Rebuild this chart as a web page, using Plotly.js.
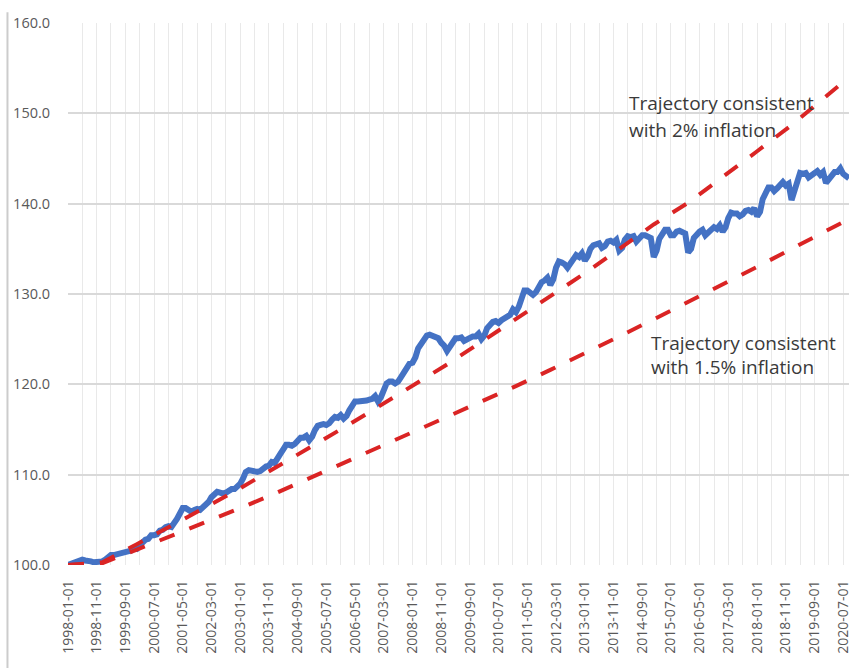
<!DOCTYPE html>
<html>
<head>
<meta charset="utf-8">
<script src="https://cdn.plot.ly/plotly-3.0.1.min.js"></script>
<style>
  html, body { margin: 0; padding: 0; background: #ffffff; }
  #chart { width: 853px; height: 669px; }
</style>
</head>
<body>
<div id="chart"></div>
<script>
// Monthly price index, January 1998 = 100 (one row per year)
const startYear = 1998;
const indexValues = [
  100.0, 100.1, 100.2, 100.4, 100.5, 100.6, 100.5, 100.5, 100.4, 100.3, 100.3, 100.4, // 1998
  100.4, 100.6, 100.8, 101.1, 101.1, 101.2, 101.2, 101.3, 101.4, 101.5, 101.6, 101.9, // 1999
  101.8, 102.2, 102.6, 102.8, 102.9, 103.3, 103.3, 103.4, 103.8, 103.9, 104.2, 104.3, // 2000
  104.2, 104.6, 105.1, 105.7, 106.3, 106.3, 106.0, 105.9, 106.1, 106.2, 106.1, 106.4, // 2001
  106.6, 107.0, 107.5, 107.8, 108.1, 108.0, 107.9, 108.0, 108.2, 108.4, 108.4, 108.7, // 2002
  109.0, 109.6, 110.3, 110.5, 110.4, 110.4, 110.3, 110.4, 110.7, 110.9, 111.0, 111.4, // 2003
  111.3, 111.7, 112.3, 112.8, 113.3, 113.3, 113.2, 113.4, 113.7, 114.1, 114.1, 114.3, // 2004
  113.8, 114.2, 114.9, 115.4, 115.5, 115.6, 115.5, 115.7, 116.1, 116.4, 116.3, 116.6, // 2005
  116.2, 116.5, 117.1, 117.8, 118.1, 118.1, 118.1, 118.2, 118.2, 118.3, 118.4, 118.7, // 2006
  118.1, 118.6, 119.4, 120.1, 120.3, 120.3, 120.1, 120.3, 120.8, 121.3, 121.9, 122.3, // 2007
  122.4, 123.0, 124.0, 124.5, 125.1, 125.4, 125.5, 125.3, 125.2, 125.1, 124.6, 124.3, // 2008
  123.7, 124.2, 124.7, 125.1, 125.1, 125.2, 124.8, 125.0, 125.1, 125.3, 125.3, 125.6, // 2009
  125.0, 125.4, 126.2, 126.7, 126.9, 127.0, 126.8, 127.1, 127.3, 127.6, 127.7, 128.3, // 2010
  128.0, 128.6, 129.7, 130.4, 130.4, 130.2, 129.9, 130.2, 130.9, 131.3, 131.5, 131.8, // 2011
  131.0, 131.6, 132.9, 133.6, 133.5, 133.3, 132.9, 133.4, 134.0, 134.3, 134.1, 134.5, // 2012
  133.7, 134.2, 135.0, 135.4, 135.5, 135.6, 135.1, 135.3, 135.8, 135.9, 135.7, 136.0, // 2013
  134.8, 135.1, 136.0, 136.4, 136.3, 136.4, 135.8, 136.1, 136.5, 136.5, 136.3, 136.2, // 2014
  134.1, 134.8, 136.1, 136.8, 137.1, 137.1, 136.5, 136.5, 136.9, 137.0, 136.8, 136.7, // 2015
  134.6, 135.0, 136.2, 136.6, 136.9, 137.1, 136.5, 136.8, 137.2, 137.4, 137.2, 137.6, // 2016
  136.9, 137.4, 138.4, 139.0, 138.9, 138.9, 138.6, 138.8, 139.2, 139.3, 139.1, 139.5, // 2017
  138.6, 139.1, 140.5, 141.3, 141.8, 141.8, 141.4, 141.7, 142.1, 142.4, 142.0, 142.2, // 2018
  140.4, 141.3, 142.6, 143.4, 143.3, 143.4, 142.9, 143.2, 143.5, 143.6, 143.2, 143.5, // 2019
  142.3, 142.8, 143.2, 143.5, 143.5, 143.9, 143.3, 143.0, 142.8                        // 2020
];

// Reference trajectories, read at each January plus the last month
const trendDates = [
  '1998-01-01', '1999-01-01', '2000-01-01', '2001-01-01', '2002-01-01', '2003-01-01',
  '2004-01-01', '2005-01-01', '2006-01-01', '2007-01-01', '2008-01-01', '2009-01-01',
  '2010-01-01', '2011-01-01', '2012-01-01', '2013-01-01', '2014-01-01', '2015-01-01',
  '2016-01-01', '2017-01-01', '2018-01-01', '2019-01-01', '2020-01-01', '2020-09-01'
];
const trend2pct = [
  100.0, 100.3, 102.3, 104.3, 106.4, 108.5, 110.7, 112.9, 115.2, 117.5, 119.8, 122.2,
  124.7, 127.2, 129.7, 132.3, 135.0, 137.7, 140.1, 142.9, 145.8, 148.7, 151.8, 154.0
];
const trend15pct = [
  100.0, 100.2, 101.7, 103.2, 104.8, 106.3, 107.9, 109.6, 111.2, 112.9, 114.6, 116.3,
  118.0, 119.8, 121.6, 123.4, 125.3, 127.2, 129.1, 131.0, 133.0, 135.0, 137.0, 138.3
];

const label2pct = ['Trajectory consistent', 'with 2% inflation'];
const label15pct = ['Trajectory consistent', 'with 1.5% inflation'];

// Month-start dates for the index series
const monthDates = indexValues.map((_, i) => {
  const y = startYear + Math.floor(i / 12);
  const m = (i % 12) + 1;
  return y + '-' + String(m).padStart(2, '0') + '-01';
});

const blue = '#4472C4';
const red = '#DA2424';
const dashPattern = '16px,16px';

const traces = [
  {
    x: monthDates, y: indexValues, type: 'scatter', mode: 'lines',
    line: { color: blue, width: 6 }, hoverinfo: 'x+y'
  },
  {
    x: trendDates, y: trend2pct, type: 'scatter', mode: 'lines',
    line: { color: red, width: 4, dash: dashPattern }, hoverinfo: 'x+y'
  },
  {
    x: trendDates, y: trend15pct, type: 'scatter', mode: 'lines',
    line: { color: red, width: 4, dash: dashPattern }, hoverinfo: 'x+y'
  }
];

const textFont = { family: '"Open Sans", sans-serif', size: 19, color: '#3a3a3a' };
function note(text, x, y) {
  return {
    text: text, xref: 'paper', yref: 'paper', x: x, y: y,
    xanchor: 'left', yanchor: 'middle', showarrow: false, font: textFont
  };
}

const layout = {
  width: 853,
  height: 669,
  margin: { l: 68, r: 4, t: 23, b: 104, pad: 0 },
  paper_bgcolor: '#ffffff',
  plot_bgcolor: '#ffffff',
  showlegend: false,
  font: { family: '"Open Sans", sans-serif', color: '#595959', size: 14 },
  xaxis: {
    type: 'date',
    range: ['1998-01-01', '2020-09-01'],
    tick0: '1998-01-01',
    dtick: 'M10',
    tickformat: '%Y-%m-%d',
    tickangle: -90,
    tickfont: { size: 14, color: '#595959' },
    ticks: 'outside', ticklen: 9, tickcolor: 'rgba(0,0,0,0)',
    showgrid: true, gridcolor: '#e9e9e9', gridwidth: 1,
    minor: { tick0: '1998-01-01', dtick: 'M5', showgrid: true, gridcolor: '#e9e9e9', gridwidth: 1 },
    showline: false, zeroline: false, fixedrange: true
  },
  yaxis: {
    range: [100, 160],
    tick0: 100,
    dtick: 10,
    tickformat: '.1f',
    tickfont: { size: 14.5, color: '#595959' },
    ticks: 'outside', ticklen: 14, tickcolor: 'rgba(0,0,0,0)',
    showgrid: true, gridcolor: '#d9d9d9', gridwidth: 1.5,
    showline: false, zeroline: false, fixedrange: true
  },
  annotations: [
    note(label2pct[0], 0.7155, 0.8515),
    note(label2pct[1], 0.7155, 0.8026),
    note(label15pct[0], 0.7437, 0.4087),
    note(label15pct[1], 0.7437, 0.3644)
  ],
  // left edge of the chart area
  shapes: [
    {
      type: 'line', xref: 'paper', yref: 'paper', layer: 'above',
      x0: -0.0775, x1: -0.0775, y0: -0.19, y1: 1.02,
      line: { color: '#cccccc', width: 2 }
    }
  ]
};

Plotly.newPlot('chart', traces, layout, { displayModeBar: false, responsive: false });
</script>
</body>
</html>
